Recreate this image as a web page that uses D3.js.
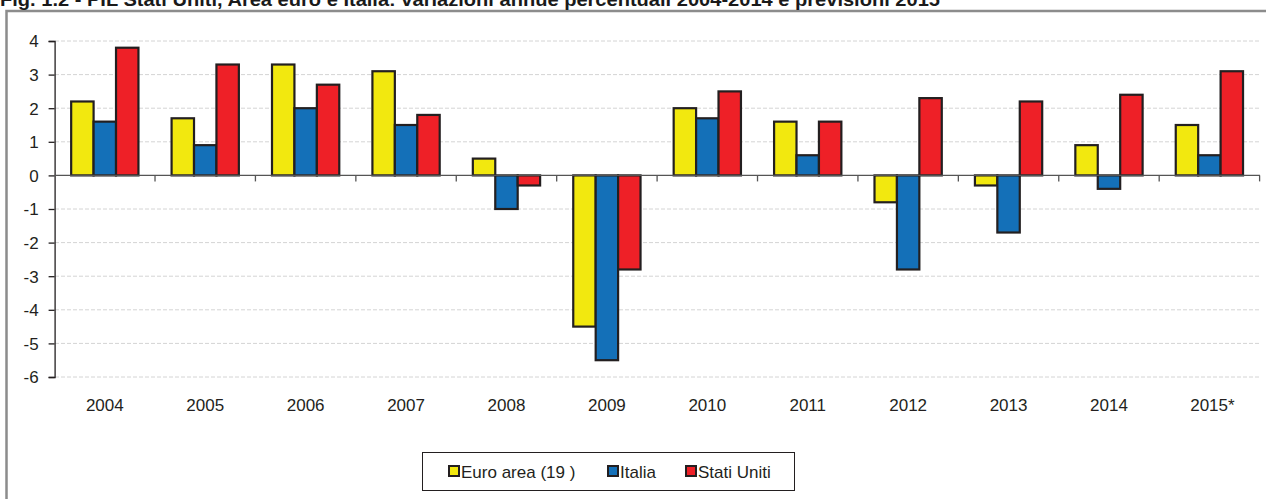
<!DOCTYPE html>
<html><head><meta charset="utf-8">
<script src="https://cdn.jsdelivr.net/npm/d3@7"></script>
<style>
html,body{margin:0;padding:0;background:#fff;overflow:hidden}
svg{display:block;font-family:"Liberation Sans",Arial,sans-serif}
</style></head>
<body>
<svg id="c" width="1266" height="499"></svg>
<script>
const title = "Fig. 1.2 - PIL Stati Uniti, Area euro e Italia: variazioni annue percentuali 2004-2014 e previsioni 2015";
const categories = ["2004","2005","2006","2007","2008","2009","2010","2011","2012","2013","2014","2015*"];
const seriesNames = ["Euro area (19 )","Italia","Stati Uniti"];
const seriesColors = ["#f2e80f","#1470b8","#ee2027"];
const euroArea  = [2.2, 1.7, 3.3, 3.1, 0.5, -4.5, 2.0, 1.6, -0.8, -0.3, 0.9, 1.5];
const italia    = [1.6, 0.9, 2.0, 1.5, -1.0, -5.5, 1.7, 0.6, -2.8, -1.7, -0.4, 0.6];
const statiUniti= [3.8, 3.3, 2.7, 1.8, -0.3, -2.8, 2.5, 1.6, 2.3, 2.2, 2.4, 3.1];
const yTicks = [4,3,2,1,0,-1,-2,-3,-4,-5,-6];

const series = [euroArea, italia, statiUniti];
const svg = d3.select("#c");

// frame
svg.append("rect").attr("x",6.5).attr("y",11).attr("width",1280).attr("height",520)
  .attr("fill","none").attr("stroke","#8c8c8c").attr("stroke-width",2.5);
// title (clipped at top as in the reference)
svg.append("text").attr("x",0).attr("y",6).attr("font-weight","bold")
  .attr("font-size",19).attr("fill","#1a1a1a")
  .attr("textLength",940).attr("lengthAdjust","spacingAndGlyphs").text(title);

const x0 = d3.scaleBand().domain(categories).range([54.6,1259.6]).paddingInner(0.33).paddingOuter(0.165);
const x1 = d3.scaleBand().domain(d3.range(3)).range([0,x0.bandwidth()]);
const y = d3.scaleLinear().domain([-6,4]).range([377,41]);
const xStep = d3.scaleBand().domain(categories).range([54.6,1259.6]);

// gridlines
svg.append("g").selectAll("line").data(yTicks.filter(d=>d!==0)).join("line")
  .attr("x1",55).attr("x2",1260).attr("y1",d=>y(d)).attr("y2",d=>y(d))
  .attr("stroke","#d4d4d4").attr("stroke-width",1).attr("stroke-dasharray","4,2");

// bars
const g = svg.append("g");
categories.forEach((c,i)=>{
  series.forEach((s,k)=>{
    const v = s[i];
    g.append("rect")
      .attr("x", x0(c)+x1(k))
      .attr("width", x1.bandwidth())
      .attr("y", y(Math.max(0,v)))
      .attr("height", Math.abs(y(v)-y(0)))
      .attr("fill", seriesColors[k])
      .attr("stroke","#231f20").attr("stroke-width",2.2);
  });
});

// y axis
const yAxis = d3.axisLeft(y).tickValues(yTicks).tickSize(6).tickPadding(10).tickFormat(d=>String(d));
const ya = svg.append("g").attr("transform","translate(54.6,0)").call(yAxis);
ya.select(".domain").attr("stroke","#231f20").attr("stroke-width",1.3).attr("d","M-6,41.5H0.5V377.5H-6");
ya.selectAll(".tick line").attr("stroke","#231f20").attr("stroke-width",1.3);
ya.selectAll("text").attr("font-size",17).attr("fill","#231f20").attr("font-family","Liberation Sans, Arial, sans-serif").attr("dy","0.35em");

// x axis at zero
svg.append("line").attr("x1",54.6).attr("x2",1260).attr("y1",y(0)).attr("y2",y(0))
  .attr("stroke","#555").attr("stroke-width",1.3);
// category separators (ticks)
svg.append("g").selectAll("line").data(categories).join("line")
  .attr("x1",d=>xStep(d)+xStep.bandwidth())
  .attr("x2",d=>xStep(d)+xStep.bandwidth())
  .attr("y1",y(0)).attr("y2",y(0)+6).attr("stroke","#555").attr("stroke-width",1.3);
// category labels
svg.append("g").selectAll("text").data(categories).join("text")
  .attr("x",d=>xStep(d)+xStep.bandwidth()/2+ (d==="2015*"?3:0))
  .attr("y",411).attr("text-anchor","middle").attr("font-size",17).attr("fill","#231f20").text(d=>d);

// legend
svg.append("rect").attr("x",422.5).attr("y",452.5).attr("width",372).attr("height",38)
  .attr("fill","#fff").attr("stroke","#231f20").attr("stroke-width",1);
const legX = [449,608,686];
seriesNames.forEach((n,k)=>{
  svg.append("rect").attr("x",legX[k]).attr("y",466).attr("width",10).attr("height",10)
    .attr("fill",seriesColors[k]).attr("stroke","#231f20").attr("stroke-width",2);
  svg.append("text").attr("x",legX[k]+12).attr("y",477.5).attr("font-size",17).attr("fill","#231f20").text(n);
});
</script>
</body></html>
